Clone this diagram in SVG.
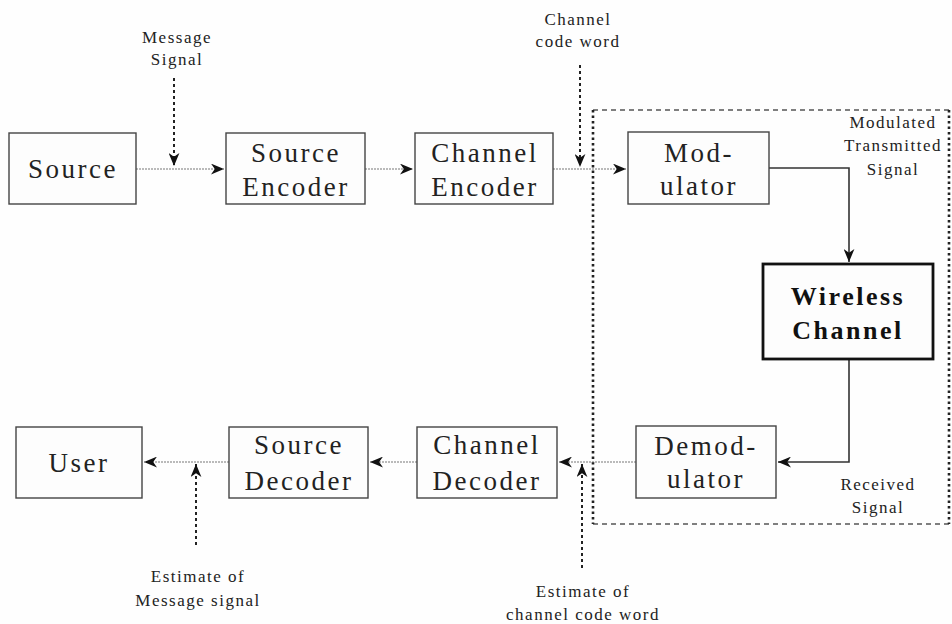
<svg xmlns="http://www.w3.org/2000/svg" width="952" height="624" viewBox="0 0 952 624">
<style>
  .box { fill: #fdfdfd; stroke: #444; stroke-width: 1.4; }
  .bold-box { fill: #fdfdfd; stroke: #111; stroke-width: 2.8; }
  .lbl { font-size: 27px; letter-spacing: 2.5px; fill: #222; text-anchor: middle; }
  .blbl { font-size: 26px; font-weight: bold; letter-spacing: 2.5px; fill: #111; text-anchor: middle; }
  .note { font-size: 17px; letter-spacing: 1.5px; fill: #222; text-anchor: middle; }
  .flow { fill: none; stroke: #777; stroke-width: 1.2; stroke-dasharray: 2 1; }
  .solid { fill: none; stroke: #333; stroke-width: 1.6; }
  .ptr { fill: none; stroke: #222; stroke-width: 2; stroke-dasharray: 3 3; }
  .frame-h { fill: none; stroke: #555; stroke-width: 1.3; stroke-dasharray: 5 4; }
  .frame-v { fill: none; stroke: #222; stroke-width: 2.6; stroke-dasharray: 2.5 3; }
</style>
<defs>
  <marker id="arr" viewBox="0 0 12 10" markerUnits="userSpaceOnUse" markerWidth="13" markerHeight="11" refX="12" refY="5" orient="auto">
    <path d="M0,0 L12,5 L0,10 L3.5,5 z" fill="#111"/>
  </marker>
</defs>
<rect width="952" height="624" fill="#fefefe"/>

<g id="frame">
  <line class="frame-h" x1="593" y1="110" x2="949" y2="110"/>
  <line class="frame-h" x1="593" y1="524" x2="949" y2="524"/>
  <line class="frame-v" x1="593" y1="110" x2="593" y2="524"/>
  <line class="frame-v" x1="949" y1="110" x2="949" y2="524"/>
</g>

<g id="connectors">
  <line class="flow" x1="136" y1="169" x2="224" y2="169" marker-end="url(#arr)"/>
  <line class="flow" x1="365" y1="169" x2="413" y2="169" marker-end="url(#arr)"/>
  <line class="flow" x1="553" y1="169" x2="626" y2="169" marker-end="url(#arr)"/>
  <polyline class="solid" points="769,168 849,168 849,262" marker-end="url(#arr)"/>
  <polyline class="solid" points="849,359 849,462 778,462" marker-end="url(#arr)"/>
  <line class="flow" x1="636" y1="462" x2="559" y2="462" marker-end="url(#arr)"/>
  <line class="flow" x1="417" y1="462" x2="370" y2="462" marker-end="url(#arr)"/>
  <line class="flow" x1="229" y1="462" x2="144" y2="462" marker-end="url(#arr)"/>
  <line class="ptr" x1="174" y1="78" x2="174" y2="166" marker-end="url(#arr)"/>
  <line class="ptr" x1="580" y1="65" x2="580" y2="167" marker-end="url(#arr)"/>
  <line class="ptr" x1="582" y1="568" x2="582" y2="464" marker-end="url(#arr)"/>
  <line class="ptr" x1="196" y1="545" x2="196" y2="464" marker-end="url(#arr)"/>
</g>

<g id="labels" font-family="Liberation Serif, DejaVu Serif, serif">
  <text class="note" x="177" y="43">Message</text>
  <text class="note" x="177" y="65">Signal</text>
  <text class="note" x="578" y="25">Channel</text>
  <text class="note" x="578" y="47">code word</text>
  <text class="note" x="893" y="128">Modulated</text>
  <text class="note" x="893" y="151">Transmitted</text>
  <text class="note" x="893" y="175">Signal</text>
  <text class="note" x="878" y="490">Received</text>
  <text class="note" x="878" y="513">Signal</text>
  <text class="note" x="198" y="582">Estimate of</text>
  <text class="note" x="198" y="606">Message signal</text>
  <text class="note" x="583" y="597">Estimate of</text>
  <text class="note" x="583" y="620">channel code word</text>
</g>

<g id="nodes" font-family="Liberation Serif, DejaVu Serif, serif">
<g id="source">
  <rect class="box" x="9" y="133" width="127" height="71"/>
  <text class="lbl" x="73" y="178">Source</text>
</g>
<g id="source-encoder">
  <rect class="box" x="226" y="133" width="139" height="71"/>
  <text class="lbl" x="296" y="162">Source</text>
  <text class="lbl" x="296" y="196">Encoder</text>
</g>
<g id="channel-encoder">
  <rect class="box" x="415" y="133" width="138" height="71"/>
  <text class="lbl" x="485" y="162">Channel</text>
  <text class="lbl" x="485" y="196">Encoder</text>
</g>
<g id="modulator">
  <rect class="box" x="628" y="132" width="141" height="72"/>
  <text class="lbl" x="699" y="162">Mod-</text>
  <text class="lbl" x="699" y="195">ulator</text>
</g>
<g id="wireless-channel">
  <rect class="bold-box" x="763" y="264" width="170" height="95"/>
  <text class="blbl" x="848" y="305">Wireless</text>
  <text class="blbl" x="848" y="339">Channel</text>
</g>
<g id="demodulator">
  <rect class="box" x="636" y="426" width="140" height="72"/>
  <text class="lbl" x="706" y="455">Demod-</text>
  <text class="lbl" x="706" y="488">ulator</text>
</g>
<g id="channel-decoder">
  <rect class="box" x="417" y="427" width="140" height="71"/>
  <text class="lbl" x="487" y="454">Channel</text>
  <text class="lbl" x="487" y="490">Decoder</text>
</g>
<g id="source-decoder">
  <rect class="box" x="229" y="427" width="139" height="71"/>
  <text class="lbl" x="299" y="454">Source</text>
  <text class="lbl" x="299" y="490">Decoder</text>
</g>
<g id="user">
  <rect class="box" x="16" y="427" width="126" height="71"/>
  <text class="lbl" x="79" y="472">User</text>
</g>
</g>
</svg>
